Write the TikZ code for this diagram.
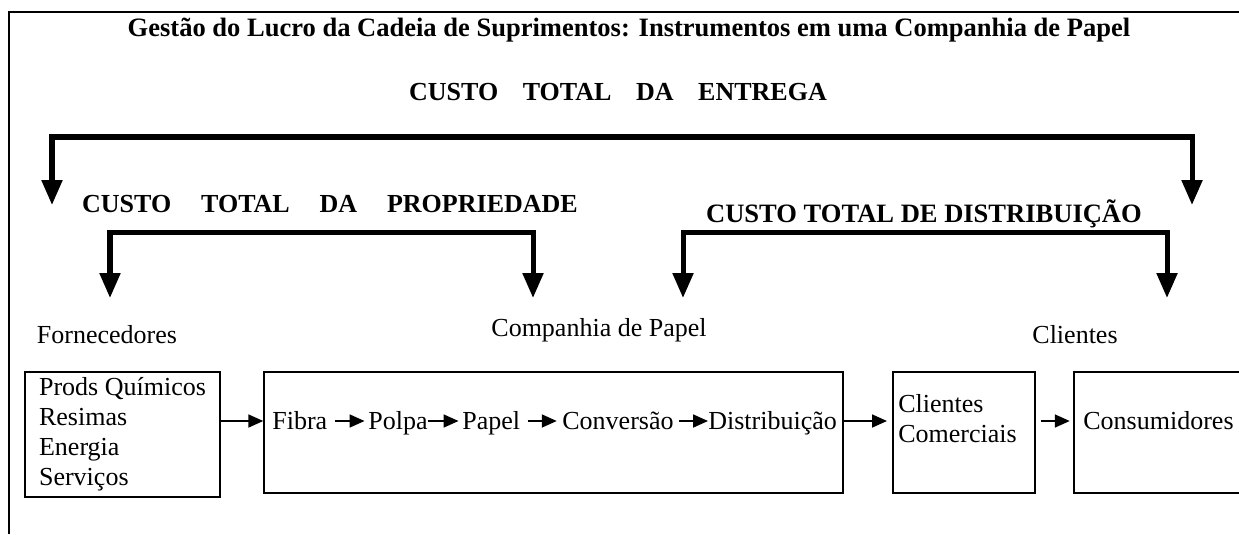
\documentclass[tikz,border=0pt]{standalone}
\usepackage{fontspec}
\setmainfont{Liberation Serif}
\usetikzlibrary{arrows.meta}

\newcommand{\espaco}{\hspace{17pt}}

\begin{document}
\begin{tikzpicture}[x=0.02cm, y=-0.02cm,
    every node/.style={font=\fontsize{14.8}{17.07}\selectfont},
    caixa/.style={draw, line width=0.9pt, inner sep=0pt},
    titulo/.style={font=\fontsize{14.8}{17.07}\selectfont\bfseries, inner sep=0pt},
    passo/.style={inner sep=0pt, text height=12.2pt, text depth=2pt},
    seta/.style={-{Triangle[width=7.4pt, length=8.5pt]}, line width=0.95pt},
    chave/.style={{Triangle[width=11.4pt, length=14.2pt]}-{Triangle[width=11.4pt, length=14.2pt]}, line width=2.85pt}]

        \useasboundingbox (0, 0) rectangle (1239, 534);
        \draw[line width=1.2pt] (9, 534) -- (9, 12) -- (1242, 12);

        \node[titulo, font=\fontsize{15.1}{17.4}\selectfont\bfseries] (titulo) at (629, 30) {Gestão do Lucro da Cadeia de Suprimentos: Instrumentos em uma Companhia de Papel};
        \node[titulo] (entrega) at (618, 92) {CUSTO\hspace{14pt}TOTAL\hspace{14pt}DA\hspace{14pt}ENTREGA};
        \node[titulo] (propriedade) at (330, 204) {CUSTO\espaco TOTAL\espaco DA\espaco PROPRIEDADE};
        \node[titulo, font=\fontsize{15.1}{17.4}\selectfont\bfseries] (distribuicao) at (924, 214) {CUSTO TOTAL DE DISTRIBUIÇÃO};

        \coordinate (entL) at (52, 205);
        \coordinate (entR) at (1192, 205);
        \coordinate (propL) at (110, 298);
        \coordinate (propR) at (533, 298);
        \coordinate (distL) at (683, 298);
        \coordinate (distR) at (1167, 298);

        \draw[chave] (entL) -- ++(0, -68) -| (entR);
        \draw[chave] (propL) -- ++(0, -66) -| (propR);
        \draw[chave] (distL) -- ++(0, -66) -| (distR);

        \node (fornecedores) at (107, 335) {Fornecedores};
        \node (companhia) at (599, 330) {Companhia de Papel};
        \node (clientes) at (1075, 335) {Clientes};

        \node[caixa, minimum width=3.9cm, minimum height=2.5cm, align=left] (forn) at (122.5, 434.5) {Prods Químicos\\Resimas\\Energia\\Serviços};
        \node[caixa, minimum width=11.58cm, minimum height=2.42cm] (comp) at (553.5, 432.5) {};
        \node[caixa, minimum width=2.84cm, minimum height=2.42cm] (cli) at (964, 432.5) {};
        \node[caixa, minimum width=3.34cm, minimum height=2.42cm] (cons) at (1157.5, 432.5) {};

        \node[passo, anchor=west] (fibra) at (272, 421) {Fibra};
        \node[passo, anchor=west] (polpa) at (368, 421) {Polpa};
        \node[passo, anchor=west] (papel) at (462, 421) {Papel};
        \node[passo, anchor=west] (conversao) at (562, 421) {Conversão};
        \node[passo, anchor=west] (distrib) at (708, 421) {Distribuição};
        \node[anchor=west, align=left, inner sep=0pt] (comerciais) at (898, 419) {Clientes\\Comerciais};
        \node[passo, anchor=west] (consum) at (1083, 421) {Consumidores};

        \draw[seta, shorten <=4pt, shorten >=2pt] (fibra) -- (polpa);
        \draw[seta, shorten >=2pt] (polpa) -- (papel);
        \draw[seta, shorten <=4pt, shorten >=3pt] (papel) -- (conversao);
        \draw[seta, shorten <=3pt] (conversao) -- (distrib);

        \draw[seta] (forn.east |- fibra.west) -- (comp.west |- fibra.west);
        \draw[seta, shorten >=3pt] (comp.east |- distrib.east) -- (cli.west |- distrib.east);
        \draw[seta, shorten <=3pt, shorten >=2pt] (cli.east |- consum.west) -- (cons.west |- consum.west);
\end{tikzpicture}
\end{document}
